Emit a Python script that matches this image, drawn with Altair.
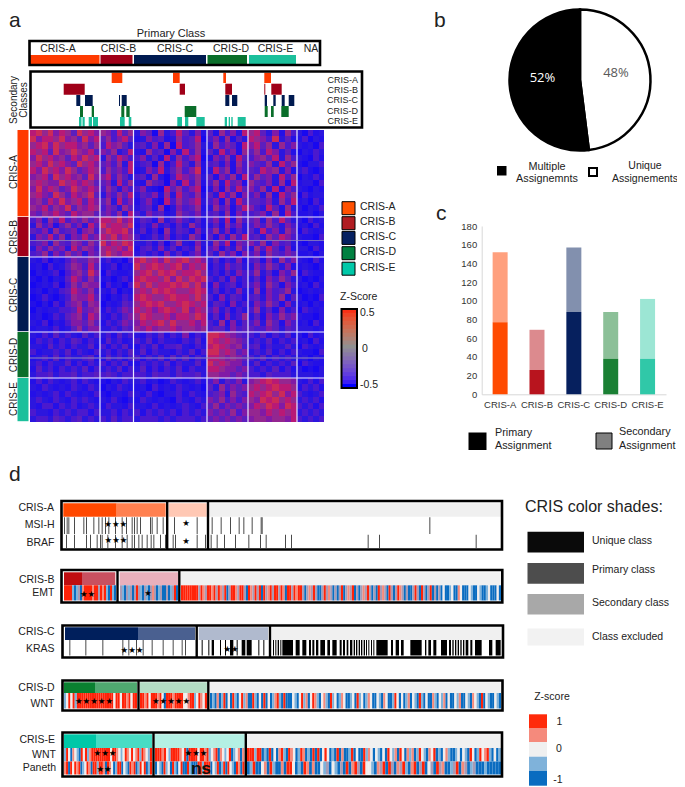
import altair as alt
import pandas as pd

W, H = 669, 779
FONT = "Liberation Sans"
PX = alt.Scale(domain=[8, 677], range=[0, 669])
PY = alt.Scale(domain=[8, 787], range=[0, 779])

CLASSES = ["CRIS-A", "CRIS-B", "CRIS-C", "CRIS-D", "CRIS-E"]
STRONG = ["#ff3a00", "#a00018", "#001a50", "#0a6e2a", "#1cc09c"]
LEGEND_FILL = ["#ff5000", "#b01c22", "#062060", "#008040", "#00c8a8"]

# ---------- panel a: positions along the sample axis
COL_EDGES = [30, 100, 133.5, 207, 248, 297, 324]
ROW_EDGES = [130, 217, 257, 332, 378, 422]
PRIMARY_SPANS = [(30, 99.5), (100.5, 132.5), (134, 206), (207.5, 247), (249, 296)]
SECONDARY = {
    "CRIS-A": [(111.7, 122.3), (173, 179.7), (223.3, 226), (264.3, 271)],
    "CRIS-B": [(63.7, 84.7), (179.7, 185), (225.3, 232), (264.3, 265.3), (271.3, 281.7)],
    "CRIS-C": [(76.3, 80.3), (85, 92.7), (119, 120), (121.7, 126.7), (225.3, 229.3), (232, 237.3),
               (264.7, 267), (273.3, 275.7), (281.7, 284.7), (288.7, 294.3)],
    "CRIS-D": [(80, 83), (91.7, 94), (121.3, 124.3), (126.3, 129.7), (184.7, 196.3),
               (264.7, 267.7), (271, 273.7), (281.3, 288.7)],
    "CRIS-E": [(79, 81.5), (82.5, 84.7), (88.7, 92), (93, 98), (120, 124.7), (128.7, 131.3),
               (177.3, 182), (185, 188.3), (196.3, 204.7), (224.7, 227), (228.7, 230), (231.3, 232.7),
               (237.7, 245.7)],
}
SEC_ROWS = [(72.7, 83), (83.7, 94.7), (95, 106), (106, 117), (117, 126.7)]

HEAT = {
    0: ["897968759786 764857 365173485362 5274638 78536274 31423",
        "968879675968 574685 236452374581 4637253 87649352 24132",
        "789697886757 486753 453627184573 3746528 68573746 32314",
        "878596797685 657348 327451638472 5384627 57486352 13243",
        "697867586978 375864 463528374681 2647385 46758374 32142",
        "786978659786 564738 345172485372 4536274 65473857 21334",
        "869786975687 475648 236483574692 3857264 54867362 34213",
        "678597867596 684753 452731486573 5264738 47563847 13242",
        "787669786875 563847 327541638472 4738562 75463728 23314",
        "696875697686 475364 463218574681 3627485 64738264 32132",
        "786597586795 364758 354627385472 5384726 46372857 14233",
        "675869678586 573846 246318475683 4627385 55463748 23142",
        "768576957687 465375 345271364572 3746258 64385273 31324",
        "657686586775 564738 436452375463 4537264 45637284 22313"],
    1: ["463758465756 887968 354273464352 4638274 56374853 31423",
        "374625746385 978879 243634253742 3527463 46475364 23142",
        "546374563674 798896 352417354263 4736253 53846375 14323",
        "365847365856 879687 423536243751 5263748 45375864 32214",
        "456375476475 968798 334251473263 3748265 64736453 21332",
        "364756385764 787869 245363524372 4625374 37485362 33142",
        "457364756365 797688 343426352463 5374626 46375465 22313"],
    2: ["324132465576 342314 897869789786 3524362 45263746 32142",
        "231423576485 234132 978987896878 2436453 36475362 23213",
        "132341467596 143223 789798978897 3425364 47352647 14322",
        "213132586475 231342 898879697989 4352634 35264753 31213",
        "123241475766 142314 979788989796 2634524 46375264 23142",
        "231324586574 324132 787989877898 3524363 37264573 12323",
        "124213476685 213243 898778988797 4263542 45364725 31214",
        "213142567476 132354 789897789878 3542634 36475263 23132",
        "132334458567 243465 878689879687 4635243 47352634 14323",
        "231243567486 324356 798778688798 3526347 35264756 32213",
        "324132466575 243465 687897977868 4372635 46375264 23142",
        "233242357466 334354 768677867767 4553645 54465354 33323"],
    3: ["324253432534 342534 324352436243 9987654 43524352 31423",
        "243424354243 253423 435243324352 9878765 34352434 23142",
        "332534243352 424352 243524453243 8987674 45243353 14323",
        "423343524324 342435 352433243524 9978756 34352424 32214",
        "234252433452 253424 424352535243 8876765 43524343 23132",
        "342433524243 424352 243435243352 9787664 35243435 14322",
        "253424343524 343524 352424352433 8876656 43435242 31213",
        "344534453445 454344 443544354453 7766565 44354443 33323"],
    4: ["242432342432 213243 342312432342 4635463 67898776 32424",
        "324323243243 132432 231423243231 5374656 78789887 24342",
        "232342432324 213324 324213342432 4563754 87897968 43234",
        "343243243432 324213 243232143243 6574646 76989787 34342",
        "324424342343 243324 332423234324 5746565 68798698 43424",
        "433243434424 334243 424343424343 6565746 77687878 34343",
        "344354345343 435344 344434344434 5656565 67767768 43434"],
}
HEAT_LEVELS = [1, 3, 5, 7, 9]
HEAT_COLORS = ["#1808f0", "#2c16de", "#5c1ebe", "#942690", "#cc2a58"]
COL_GAPS = [100, 133.5, 207, 248, 297]
ROW_GAPS = [217, 257, 332, 378]
PALE_ROWS = [240.7, 358]

ZLEGEND_LEVELS = [-0.5, -0.45, -0.4, -0.35, -0.3, -0.25, -0.2, -0.15, -0.1, -0.05, 0,
                  0.05, 0.1, 0.15, 0.2, 0.25, 0.3, 0.35, 0.4, 0.45]

# ---------- panel b
PIE_LABELS = ["Unique", "Multiple"]
PIE_SHARE = [48, 52]
PIE_COLORS = ["#ffffff", "#000000"]

# ---------- panel c
PRIMARY_COUNT = [77, 26, 88, 38, 38]
TOTAL_COUNT = [152, 69, 157, 88, 102]
BAR_DARK = ["#ff4a00", "#b8141e", "#06205e", "#1a8034", "#30c8a8"]
BAR_LIGHT = ["#ffa07e", "#dc8a8e", "#8290ae", "#8cc098", "#9ce6d4"]

# ---------- panel d: tracks (positions in 3x image units)
MSI = [192, 200, 205, 222, 250, 258, 280, 295, 305, 315, 325, 345, 365, 378, 395, 402, 410, 420, 450, 455,
       470, 488, 522, 590, 635, 662, 690, 716, 730, 755, 782, 785, 1288]
BRAF = [198, 222, 258, 270, 290, 300, 305, 322, 345, 365, 380, 395, 402, 415, 425, 440, 452, 460, 480, 495,
        518, 525, 590, 615, 632, 650, 672, 705, 745, 780, 797, 855, 873, 1103, 1137, 1427]
KRAS_1 = [28, 76, 127, 187, 205, 228, 248, 275, 308, 338, 365, 375]
KRAS_2 = [(425, 428), (445, 448), (455, 462), (480, 483), (495, 498), (510, 520), (530, 533), (545, 556),
          (560, 575), (595, 598), (610, 613)]
KRAS_3 = [(24, 27), (31, 34), (38, 42), (46, 49), (52, 84), (92, 104), (112, 124), (132, 138), (142, 148),
          (153, 160), (166, 180), (187, 195), (202, 215), (224, 230), (234, 240), (245, 250), (255, 262),
          (266, 270), (273, 277), (281, 285), (288, 292), (296, 300), (303, 306), (310, 313), (318, 321),
          (325, 328), (334, 368), (378, 384), (392, 402), (408, 416), (436, 470), (480, 484), (490, 498),
          (505, 514), (528, 546), (552, 558), (562, 566), (570, 574), (578, 582), (586, 590), (594, 598),
          (602, 610), (616, 622), (630, 650), (672, 682), (692, 707)]

STRIPE_COLORS = {"R": "#ff2208", "r": "#f58a7c", "w": "#f0ecec", "b": "#7fb2da", "B": "#0a6cc0", "g": "#a89ab4"}
EMT = [(64, 116, "RRRRbBbgBrRRRRrRRgRrRbBRbB"),
       (120, 178, "gbBgbgBgRgbBgbBgrgBbgBBgBbgRB"),
       (181, 501, "RRRRRRRRgRrgRRrRgRrgRBgRRrgRRgBRrgRgRBRgrRgRRgRrBRRgRrRR"
                  "gBgrgRgBBgRgrgBgBgRBgrgRBgBgrgRgBgBRgrgBRgBgRrgBgBBgRgBRgBgRBgBg"
                  "BwBBbwBBrwBBBwbBBwbBBbwBBBwB")]
WNT_D = [(64, 137, "bwRwRbRRRRRRRRRRRRRRRRRwRRwRRrRwRR"),
         (140, 207, "RRrRwRRRrRwBRRRrRRRRwwrRRbwRrwR"),
         (210, 501, "BbBrBbRBwBRbBwRbrBBRbBwBRBwBbrRbBRBBBwbBwRbrBwRrbBwrbBRbwBbrwBBbwBRb"
                    "wBbrwBBwbBrwBBbRwBwBbrBwbBRbBwBBrbBwbrBwBBwbrBBwbBrwbBRBwbBBwbB")]
WNT_E = [(64, 152, "bRwBrwbBRwRbrRRRRRRRRRwRRrwbwRrwRwrRbRrwbR"),
         (155, 244.5, "RRRrRwbRRRRrwRBRRRRwRRrRbwrRBrwbwRBbwrBr"),
         (247, 501, "RRRbRRBbBRBwBrRbBRrwBbRrBbBRBRBwRwBbBRBrBBbRBwBBRbrwBwbBwBRwbrBRw"
                    "BrbrBbRwbBrwRBbBwrbBBbwBwbBRwBbRwrRbBwBb")]
PANETH = [(64, 152, "rRBRwRrRBbwRrBRRbRRrBRrwBbRRBwbBRrRBbRwRBbR"),
          (155, 244.5, "BwbBRbwBRbBwRBBRbBBBRRbRRRBwbRBbRBRwbBRrBR"),
          (247, 501, "BbRBBwrBRbBBrBRRwBbBRrBrBBwbgBwbBgBRBrRgBRwwbBrgRBRgBrgRbBrRBgRBwg"
                     "BRgrBBbgRBrgBbgBBBbBBBBB")]

# ---------- layout tables
rects = []
def box(x0, x1, y0, y1, color):
    rects.append(dict(x0=x0, x1=x1, y0=y0, y1=y1, color=color))

frames = []
def frame(x0, x1, y0, y1):
    frames.append(dict(x0=x0, x1=x1, y0=y0, y1=y1))

labels = []
def T(text, x, y, size=10.5, align="left", color="#222222", angle=0, font=FONT, weight="normal"):
    labels.append(dict(text=text, x=x, y=y, size=size, align=align, color=color, angle=angle, font=font, weight=weight))

# panel a shapes
for (a, b), c in zip(PRIMARY_SPANS, STRONG):
    box(a, b, 55, 64, c)
for i, c in enumerate(CLASSES):
    for a, b in SECONDARY[c]:
        box(a, b, SEC_ROWS[i][0], SEC_ROWS[i][1], STRONG[i])
for i, c in enumerate(STRONG):
    box(17.5, 28.5, ROW_EDGES[i], ROW_EDGES[i + 1] - 0.8, c)

heat_cells = []
for block, rows in HEAT.items():
    top, bot = ROW_EDGES[block], ROW_EDGES[block + 1]
    n = len(rows)
    for r, line in enumerate(rows):
        y0, y1 = round(top + (bot - top) * r / n), round(top + (bot - top) * (r + 1) / n)
        for s, seg in enumerate(line.split(" ")):
            l, rr = COL_EDGES[s], COL_EDGES[s + 1]
            for c, d in enumerate(seg):
                x0 = round(l + (rr - l) * c / len(seg))
                x1 = round(l + (rr - l) * (c + 1) / len(seg))
                heat_cells.append(dict(x0=x0, x1=x1, y0=y0, y1=y1, v=int(d)))

for x in COL_GAPS:
    box(x - 0.6, x + 0.6, 130, 422, "#e8e8ff")
for y in ROW_GAPS:
    box(30, 324, y - 0.6, y + 0.6, "#e8e8ff")
for y in PALE_ROWS:
    box(30, 324, y - 0.4, y + 0.4, "#9088b8")

frame(29.5, 320, 41, 65)
frame(30.5, 362, 71.5, 127.5)

T("Primary Class", 171, 33.5, 11, "center")
for t, x in zip(CLASSES + ["NA"], [58, 118.5, 175, 231, 275.5, 311]):
    T(t, x, 48.5, 10.5, "center")
for t, y in zip(CLASSES, [80, 90, 100, 110.5, 120.5]):
    T(t, 358, y, 9, "right")
T("Secondary", 14, 100, 10, "center", angle=270)
T("Classes", 24, 100, 10, "center", angle=270)
for t, y in zip(CLASSES, [172, 237, 295, 355, 399]):
    T(t, 14, y, 10, "center", angle=270)

for c, y0 in zip(LEGEND_FILL, [201, 216, 230.7, 246, 261.5]):
    box(342, 355, y0 + 0.7, y0 + 13.7, c)
    frames.append(dict(x0=342, x1=355, y0=y0 + 0.7, y1=y0 + 13.7, w=1))
for t, y in zip(CLASSES, [206.5, 221.5, 236.5, 252, 268]):
    T(t, 360, y, 10.5)
T("Z-Score", 340, 297, 10.5)
T("0.5", 360, 313, 10.5)
T("0", 362, 349, 10.5)
T("-0.5", 360, 385, 10.5)

# panel b text
T("52%", 542.5, 78, 13, "center", "#ffffff", font="Open Sans")
T("48%", 616, 72.5, 13, "center", "#595959", font="Open Sans")
box(497, 506.5, 166, 175.5, "#000000")
frames.append(dict(x0=589, x1=597, y0=168, y1=176, w=2))
T("Multiple", 547, 167, 10.8, "center")
T("Assignemnts", 547, 179, 10.8, "center")
T("Unique", 645, 166, 10.5, "center")
T("Assignements", 645, 179, 10.5, "center")

# panel c legend
box(468.5, 486.5, 432.5, 450, "#000000")
box(596, 612, 433, 449, "#808080")
frames.append(dict(x0=596, x1=612, y0=433, y1=449, w=1))
T("Primary", 495, 433, 10.8)
T("Assignment", 495, 446, 10.8)
T("Secondary", 619, 432, 10.8)
T("Assignment", 619, 446, 10.8)

# panel letters
T("a", 9, 21, 21)
T("b", 434, 21, 21)
T("c", 436, 214, 21)
T("d", 9, 475, 21)

# panel d tracks
def shades(y0, y1, spans):
    for a, b, c in spans:
        box(a, b, y0, y1, c)

def stripes(y0, y1, sections):
    for a, b, s in sections:
        for i, ch in enumerate(s):
            box(a + (b - a) * i / len(s), a + (b - a) * (i + 1) / len(s), y0, y1, STRIPE_COLORS[ch])

def ticks(y0, y1, values, base=0):
    for v in values:
        box(base + v / 3, base + v / 3 + 1, y0, y1, "#4a4a4a")

shades(503.3, 516.7, [(63.3, 116.7, "#ff4800"), (116.7, 165.7, "#ff8050"), (168.7, 206.7, "#ffc8b4"), (209.3, 501.7, "#f0f0f0")])
ticks(517.3, 534, MSI)
ticks(534.7, 548, BRAF)
shades(572.3, 585.3, [(64, 82, "#bf0d10"), (82, 115.3, "#c85060"), (119.7, 178, "#e8b0bc"), (180.7, 500.7, "#f0f0f0")])
stripes(585.3, 600.5, EMT)
shades(627.3, 640, [(65, 138, "#001f5c"), (138, 195, "#4a6090"), (198.7, 268, "#b0bace"), (271.7, 500.7, "#f0f0f0")])
ticks(640, 655.5, KRAS_1, 60)
for a, b in KRAS_2:
    box(60 + a / 3, 60 + b / 3, 640, 655.5, "#000000")
for a, b in KRAS_3:
    box(265 + a / 3, 265 + b / 3, 640, 655.5, "#000000")
shades(682.3, 693, [(64, 95, "#0a8030"), (95, 137, "#50a870"), (140, 207, "#b4dcc4"), (209.7, 500.7, "#f0f0f0")])
stripes(693, 708.5, WNT_D)
shades(734.3, 748, [(64, 96, "#00c8a8"), (96, 152, "#48dcc4"), (155, 244.7, "#b4f0e4"), (247, 500, "#f0f0f0")])
stripes(748, 761.5, WNT_E)
stripes(761.5, 774.5, PANETH)

for x0, x1, y0, y1 in [(61.5, 502, 501, 549.5), (61.5, 502.3, 570, 602.5), (62.5, 503, 625.5, 657.5),
                       (62.5, 502.5, 680.5, 710.5), (62.5, 502, 732.5, 776.5)]:
    frame(x0, x1, y0, y1)
for x, y0, y1 in [(167.2, 501, 549.5), (208, 501, 549.5), (117.5, 570, 602.5), (179.3, 570, 602.5),
                  (196.7, 625.5, 657.5), (270, 625.5, 657.5), (138.5, 680.5, 710.5), (208.3, 680.5, 710.5),
                  (153.5, 732.5, 776.5), (245.8, 732.5, 776.5)]:
    box(x - 1.2, x + 1.2, y0, y1, "#000000")

for t, y, x in [("CRIS-A", 508, 54), ("MSI-H", 525, 54.5), ("BRAF", 543, 54.5), ("CRIS-B", 580, 54.5), ("EMT", 593, 54.5),
                ("CRIS-C", 632, 54.5), ("KRAS", 649, 54.5), ("CRIS-D", 688, 54.5), ("WNT", 704, 54.5),
                ("CRIS-E", 740, 55), ("WNT", 755, 56), ("Paneth", 768, 56)]:
    T(t, x, y, 10.5, "right")
for t, x, y in [("★★★", 115.7, 524), ("★", 186, 523), ("★★★", 116, 539.5), ("★", 186, 541), ("★★", 87.5, 594),
                ("★", 148, 593), ("★★★", 132, 650), ("★★", 231, 649), ("★★★★★", 94, 701), ("★★★★★", 171, 701),
                ("★★★", 105, 753), ("★★★", 196, 753), ("★★", 104, 769)]:
    T(t, x, y, 8.5, "center", "#000000", font="DejaVu Sans")
T("ns", 201, 769, 17, "center", "#111111", weight="bold")

# d legends
T("CRIS color shades:", 525, 507, 16)
for (y0, y1, c), t, y in zip([(531.7, 552.5, "#0a0a0a"), (563, 583.7, "#4d4d4d"), (594, 614.5, "#a8a8a8"), (628.5, 645.5, "#f2f2f2")],
                             ["Unique class", "Primary class", "Secondary class", "Class excluded"],
                             [540.5, 570, 603, 636.5]):
    box(527.5, 584, y0, y1, c)
    T(t, 592, y, 10.5)
T("Z-score", 552, 697, 10.5, "center")
for (y0, y1, c) in [(714.3, 728, "#ff2a0a"), (728, 742, "#f58a7c"), (742, 756.7, "#f0f0f0"), (756.7, 771, "#7fb2da"), (771, 785.7, "#0a6cc0")]:
    box(529, 547, y0, y1, c)
T("1", 559.5, 722, 10.5, "center")
T("0", 559, 749, 10.5, "center")
T("-1", 558, 780, 10.5, "center")

# ---------- layers
def xy():
    return dict(
        x=alt.X("x0:Q", scale=PX, axis=None),
        x2="x1:Q",
        y=alt.Y("y0:Q", scale=PY, axis=None),
        y2="y1:Q",
    )

heat_layer = alt.Chart(pd.DataFrame(heat_cells)).mark_rect().encode(
    color=alt.Color("v:Q", scale=alt.Scale(domain=HEAT_LEVELS, range=HEAT_COLORS), legend=None), **xy())
rect_layer = alt.Chart(pd.DataFrame(rects)).mark_rect().encode(color=alt.Color("color:N", scale=None), **xy())

zdf = pd.DataFrame({"z": ZLEGEND_LEVELS, "z2": [min(v + 0.06, 0.5) for v in ZLEGEND_LEVELS]})
zscale = alt.Scale(domain=[-0.5, 0.5], range=[380, 301])
z_layer = alt.Chart(zdf).mark_rect().encode(
    x=alt.value(333.5), x2=alt.value(349),
    y=alt.Y("z:Q", scale=zscale, axis=None), y2="z2:Q",
    color=alt.Color("z:Q", scale=alt.Scale(domain=[-0.5, 0, 0.5], range=["#0000ff", "#909090", "#ff0000"]), legend=None),
)
z_frame = pd.DataFrame([dict(x0=341.5, x1=357, y0=309, y1=388)])

fdf = pd.DataFrame(frames)
fdf["w"] = fdf["w"].fillna(2.6)
frame_layers = []
for w, g in pd.concat([fdf, z_frame.assign(w=2.0)]).groupby("w"):
    frame_layers.append(alt.Chart(g).mark_rect(fillOpacity=0, stroke="#000000", strokeWidth=float(w)).encode(**xy()))

pie_df = pd.DataFrame({"label": PIE_LABELS, "share": PIE_SHARE, "fill": PIE_COLORS, "i": [0, 1]})
pie = alt.Chart(pie_df).mark_arc(outerRadius=70.5, stroke="#000000", strokeWidth=2.5).encode(
    theta=alt.Theta("share:Q", stack=True),
    order=alt.Order("i:Q"),
    color=alt.Color("fill:N", scale=None),
    x=alt.value(572), y=alt.value(72),
)

bar_df = pd.DataFrame({"cat": CLASSES, "primary": PRIMARY_COUNT, "total": TOTAL_COUNT, "dark": BAR_DARK, "light": BAR_LIGHT})
bar_x = alt.Scale(domain=CLASSES, range=[473.7, 658], padding=0)
bar_y = alt.Scale(domain=[0, 180], range=[386.3, 218])
bar_axis_x = alt.Axis(title=None, labelAngle=0, labelFontSize=9.5, labelFont=FONT, labelColor="#333333", ticks=False,
                      domainColor="#d8d8d8", offset=386.3 - H, labelPadding=5, grid=False)
bar_axis_y = alt.Axis(title=None, values=[0, 20, 40, 60, 80, 100, 120, 140, 160, 180], labelFontSize=9.5, labelFont=FONT,
                      labelColor="#333333", ticks=False, domainColor="#d8d8d8", offset=-473.7, labelPadding=5, grid=False)
bars_p = alt.Chart(bar_df).mark_bar(size=15).encode(
    x=alt.X("cat:N", scale=bar_x, axis=bar_axis_x),
    y=alt.Y("primary:Q", scale=bar_y, axis=bar_axis_y),
    color=alt.Color("dark:N", scale=None),
)
bars_s = alt.Chart(bar_df).mark_bar(size=15).encode(
    x=alt.X("cat:N", scale=bar_x, axis=None),
    y=alt.Y("primary:Q", scale=bar_y, axis=None),
    y2="total:Q",
    color=alt.Color("light:N", scale=None),
)

text_layers = []
ldf = pd.DataFrame(labels)
for (size, align, color, angle, font, weight), g in ldf.groupby(["size", "align", "color", "angle", "font", "weight"]):
    text_layers.append(
        alt.Chart(g[["text", "x", "y"]]).mark_text(
            fontSize=float(size), align=align, color=color, angle=int(angle), font=font, fontWeight=weight, baseline="middle"
        ).encode(x=alt.X("x:Q", scale=PX, axis=None), y=alt.Y("y:Q", scale=PY, axis=None), text="text:N")
    )

chart = alt.layer(heat_layer, rect_layer, z_layer, pie, bars_s, bars_p, *frame_layers, *text_layers).resolve_scale(
    x="independent", y="independent", color="independent", theta="independent"
).properties(
    width=W, height=H, padding=0, autosize=alt.AutoSizeParams(type="none"), background="#ffffff"
).configure_view(stroke=None)

chart.save("out.html", embed_options={"renderer": "svg", "actions": False})
